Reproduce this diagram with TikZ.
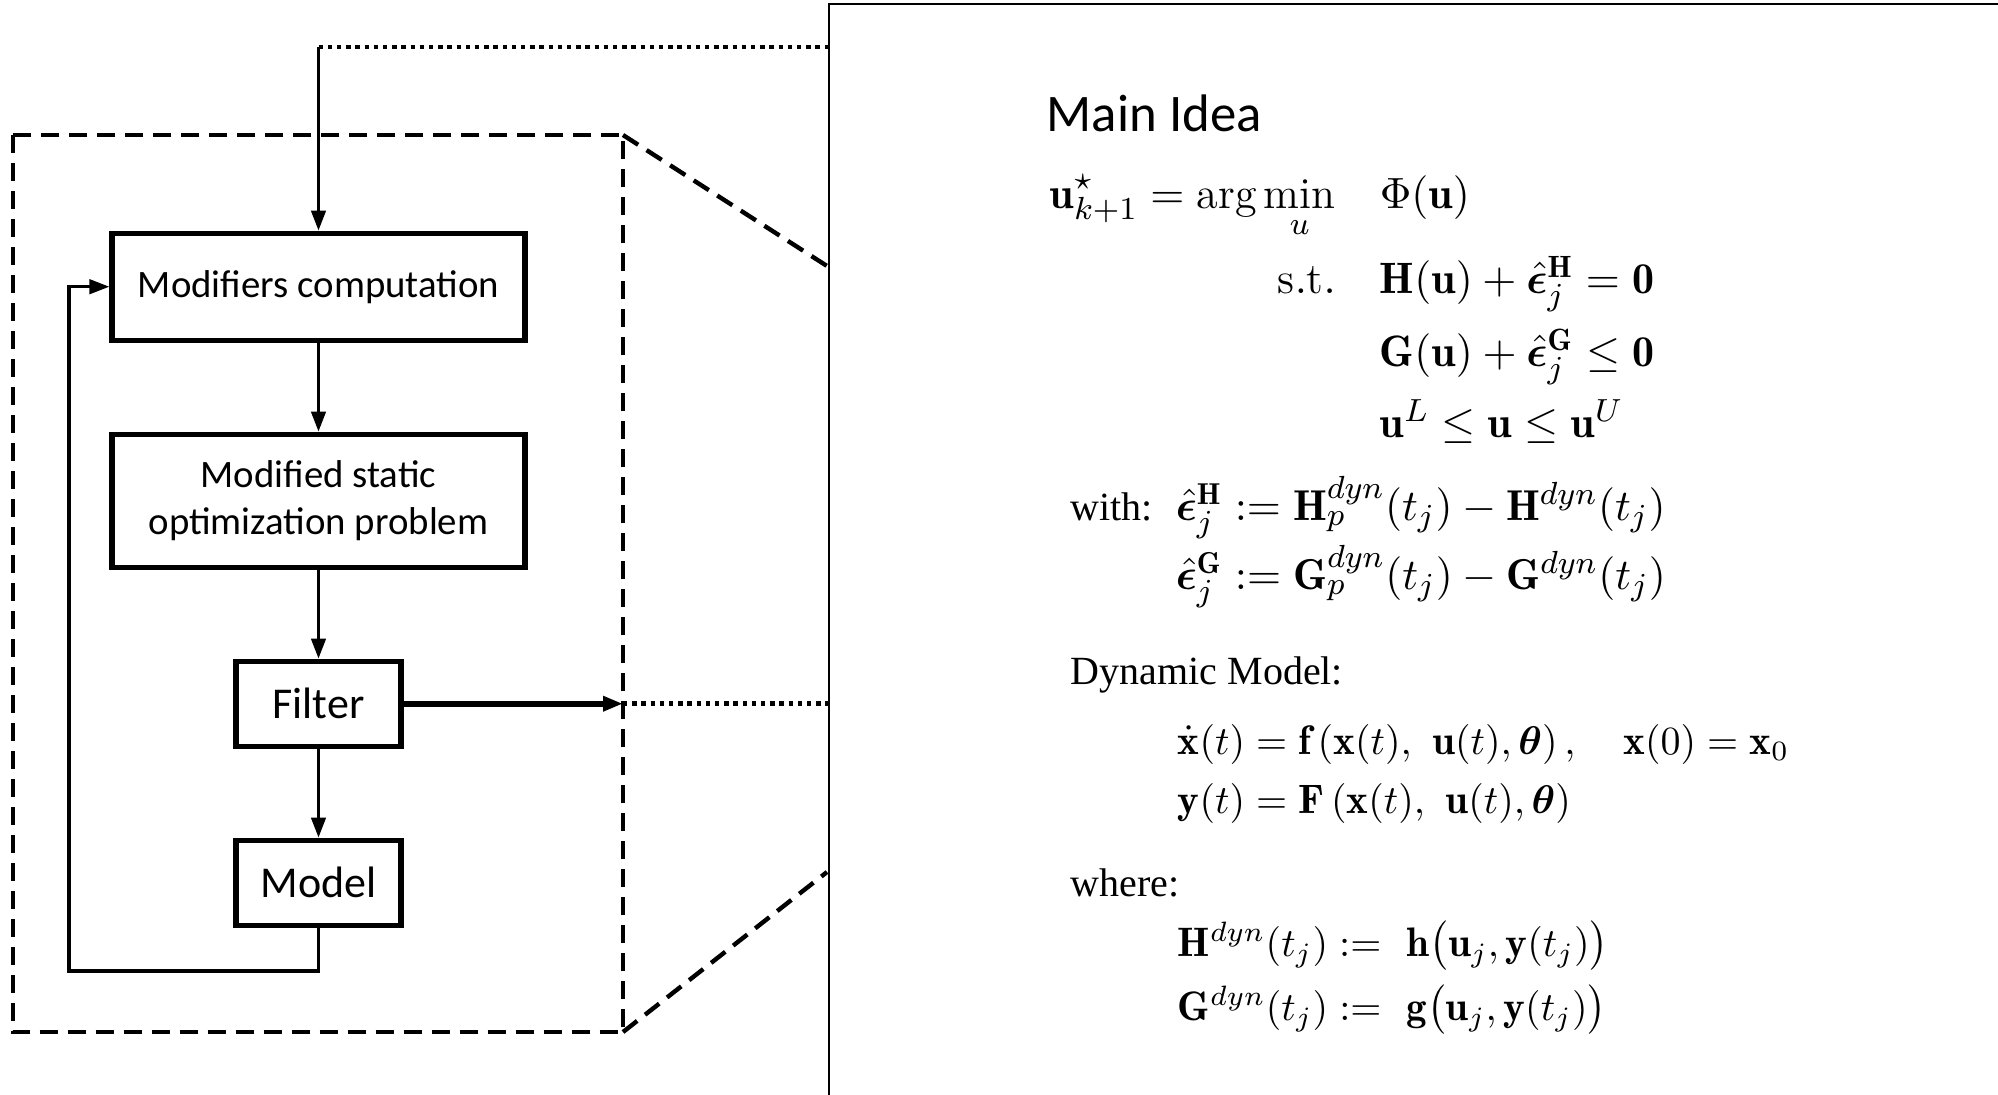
\documentclass[tikz,border=0pt]{standalone}
\usepackage{amsmath, amssymb, bm}
\usepackage{fontspec}
\newfontfamily\boxfont{Carlito}
\newfontfamily\wordfont{Liberation Serif}
\usetikzlibrary{arrows.meta, positioning}

\begin{document}
\begin{tikzpicture}[x=0.25pt, y=-0.25pt, node distance=22.2pt,
    block/.style={draw, line width=1.3pt, align=center, font=\boxfont\fontsize{9.7}{11.8}\selectfont},
    conn/.style={line width=0.8pt, -{Triangle[length=5pt, width=3.6pt]}},
    dashline/.style={line width=1.1pt, dash pattern=on 4.5pt off 2.5pt},
    dotline/.style={line width=1.2pt, dash pattern=on 1.1pt off 1.2pt},
    eq/.style={anchor=base west, inner sep=0pt, font=\fontsize{11}{13}\selectfont},
    smalleq/.style={eq, font=\fontsize{10.3}{12}\selectfont},
    word/.style={anchor=base west, inner sep=0pt, font=\wordfont\fontsize{10}{12}\selectfont}]
    \useasboundingbox (0,0) rectangle (1998,1094);
    \clip (0,0) rectangle (1998,1094);

    % left loop
    \node[block, minimum width=103.25pt, minimum height=26.75pt] (modif) at (318.5,286.7) {Modifiers computation};
    \node[block, minimum width=103.25pt, minimum height=33.25pt, below=of modif] (static) {Modified static\\optimization problem};
    \node[block, minimum width=41.25pt, minimum height=21.25pt, font=\boxfont\fontsize{11}{13}\selectfont, below=of static] (filter) {Filter};
    \node[block, minimum width=41.25pt, minimum height=21.25pt, font=\boxfont\fontsize{11}{13}\selectfont, below=of filter] (model) {Model};

    \coordinate (dbnw) at (12.7,135);
    \coordinate (dbse) at (623,1032);
    \coordinate (bignw) at (829,4);
    \coordinate (bigse) at (2100,1200);
    \coordinate (zoomtop) at (827,266);
    \coordinate (zoombot) at (827,872);
    \coordinate (topturn) at (318.5,47);
    \coordinate (fbk) at (69,971);

    \draw[conn] (modif) -- (static);
    \draw[conn] (static) -- (filter);
    \draw[conn] (filter) -- (model);
    \draw[conn] (model.south) |- (fbk) |- (modif.west);
    \draw[conn] (topturn) -- (modif);
    \draw[dotline] (topturn) -- (topturn -| bignw);
    \draw[conn, line width=1.4pt] (filter.east) -- (filter.east -| dbse);
    \draw[dotline] (filter.east -| dbse) -- (filter.east -| bignw);

    % zoom frame
    \draw[dashline] (dbnw) rectangle (dbse);
    \draw[dashline] (dbse |- dbnw) -- (zoomtop);
    \draw[dashline] (dbse) -- (zoombot);
    \draw[line width=0.55pt] (bignw) rectangle (bigse);

    % main idea
    \node[anchor=base west, inner sep=0pt, font=\boxfont\fontsize{13.2}{15}\selectfont] (title) at (1046,131) {Main Idea};
    \node[eq] (argmin) at (1049,208) {$\displaystyle \mathbf{u}_{k+1}^{\star} = \arg\min_{u}$};
    \node[eq] (cost) at (1379,208) {$\Phi(\mathbf{u})$};
    \node[eq] (st) at (1277,293) {$\mathrm{s.t.}$};
    \node[eq] (eqc) at (1379,293) {$\mathbf{H}(\mathbf{u}) + \hat{\bm{\epsilon}}_j^{\mathbf{H}} = \mathbf{0}$};
    \node[eq] (ineqc) at (1379,366) {$\mathbf{G}(\mathbf{u}) + \hat{\bm{\epsilon}}_j^{\mathbf{G}} \leq \mathbf{0}$};
    \node[eq] (bounds) at (1379,437) {$\mathbf{u}^{L} \leq \mathbf{u} \leq \mathbf{u}^{U}$};

    \node[word] (with) at (1070,520) {with:};
    \node[eq, font=\fontsize{10.8}{13}\selectfont] (epsh) at (1175,520) {$\hat{\bm{\epsilon}}_j^{\mathbf{H}} := \mathbf{H}_p^{dyn}(t_j) - \mathbf{H}^{dyn}(t_j)$};
    \node[eq, font=\fontsize{10.8}{13}\selectfont] (epsg) at (1175,589) {$\hat{\bm{\epsilon}}_j^{\mathbf{G}} := \mathbf{G}_p^{dyn}(t_j) - \mathbf{G}^{dyn}(t_j)$};

    \node[word] (dyn) at (1070,684) {Dynamic Model:};
    \node[smalleq] (xdot) at (1177,754) {$\dot{\mathbf{x}}(t) = \mathbf{f}\left(\mathbf{x}(t),\ \mathbf{u}(t),\bm{\theta}\right), \quad \mathbf{x}(0) = \mathbf{x}_0$};
    \node[smalleq] (yout) at (1177,813) {$\mathbf{y}(t) = \mathbf{F}\left(\mathbf{x}(t),\ \mathbf{u}(t),\bm{\theta}\right)$};

    \node[word] (where) at (1070,896) {where:};
    \node[smalleq] (hdyn) at (1177,956) {$\mathbf{H}^{dyn}(t_j) :=\ \mathbf{h}\big(\mathbf{u}_j,\mathbf{y}(t_j)\big)$};
    \node[smalleq] (gdyn) at (1177,1020) {$\mathbf{G}^{dyn}(t_j) :=\ \mathbf{g}\big(\mathbf{u}_j,\mathbf{y}(t_j)\big)$};
\end{tikzpicture}
\end{document}
